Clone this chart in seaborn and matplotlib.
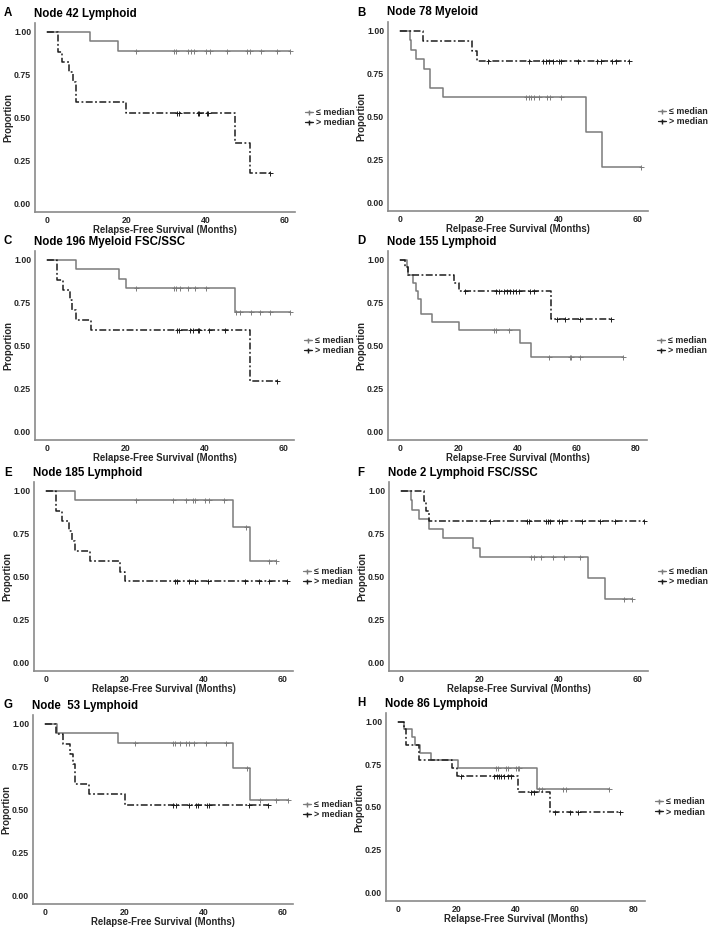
import numpy as np
import pandas as pd
import seaborn as sns
import matplotlib.pyplot as plt
from matplotlib.lines import Line2D

# Kaplan-Meier curves: event times (months), survival after
# each event, and censoring times, for the "<= median" and "> median" groups.

# A - Node 42 Lymphoid
a_le_t = [10.9, 17.9]
a_le_s = [0.944, 0.889]
a_le_c = [22.5, 32.0, 32.6, 35.6, 36.4, 37.0, 40.2, 41.2, 45.3, 50.5, 51.3, 54.1, 58.1, 61.3]
a_gt_t = [2.6, 3.6, 5.6, 6.5, 7.3, 19.8, 47.4, 51.3]
a_gt_s = [0.882, 0.824, 0.765, 0.706, 0.588, 0.529, 0.353, 0.176]
a_gt_c = [32.7, 33.3, 38.0, 38.3, 40.3, 40.7, 56.4]

# B - Node 78 Myeloid
b_le_t = [2.5, 2.8, 4.0, 5.9, 7.4, 10.9, 46.9, 50.9]
b_le_s = [0.944, 0.889, 0.833, 0.778, 0.667, 0.611, 0.407, 0.204]
b_le_c = [31.8, 32.5, 33.0, 33.9, 35.1, 37.2, 37.8, 40.6, 60.9]
b_gt_t = [5.7, 18.1, 19.5]
b_gt_s = [0.941, 0.882, 0.824]
b_gt_c = [22.2, 32.5, 36.0, 36.7, 37.7, 38.5, 40.0, 40.6, 45.0, 49.8, 50.6, 53.6, 54.4, 57.7]

# C - Node 196 Myeloid FSC/SSC
c_le_t = [7.4, 18.3, 19.9, 47.6]
c_le_s = [0.944, 0.889, 0.833, 0.694]
c_le_c = [22.4, 32.1, 32.7, 33.8, 35.7, 37.4, 40.4, 48.0, 48.9, 51.6, 54.1, 56.5, 61.5]
c_gt_t = [2.4, 3.9, 5.7, 6.3, 7.2, 11.0, 51.4]
c_gt_s = [0.882, 0.824, 0.765, 0.706, 0.647, 0.588, 0.294]
c_gt_c = [32.8, 33.4, 36.3, 37.0, 38.2, 38.5, 41.0, 45.2, 58.2]

# D - Node 155 Lymphoid
d_le_t = [2.3, 2.8, 4.5, 5.6, 6.2, 7.3, 10.9, 20.0, 40.8, 44.5]
d_le_s = [0.955, 0.909, 0.864, 0.818, 0.773, 0.682, 0.636, 0.591, 0.517, 0.431]
d_le_c = [31.9, 32.7, 37.2, 50.7, 57.8, 58.3, 61.4, 75.8]
d_gt_t = [1.7, 2.8, 18.4, 20.1, 51.5]
d_gt_s = [0.955, 0.909, 0.864, 0.818, 0.654]
d_gt_c = [22.0, 32.7, 33.8, 35.5, 36.6, 37.6, 38.5, 39.4, 40.6, 44.2, 45.6, 53.3, 56.3, 61.4, 71.8]

# E - Node 185 Lymphoid
e_le_t = [7.4, 47.5, 51.6]
e_le_s = [0.944, 0.787, 0.590]
e_le_c = [22.7, 32.1, 35.5, 37.2, 37.8, 40.3, 41.2, 45.2, 50.6, 56.4, 58.2]
e_gt_t = [2.5, 4.1, 5.9, 6.5, 7.4, 11.0, 18.6, 20.0]
e_gt_s = [0.882, 0.824, 0.765, 0.706, 0.647, 0.588, 0.529, 0.471]
e_gt_c = [32.7, 33.2, 36.3, 37.8, 41.0, 50.3, 54.1, 56.6, 61.1]

# F - Node 2 Lymphoid FSC/SSC
f_le_t = [2.5, 2.8, 4.4, 7.1, 10.5, 18.3, 20.0, 47.3, 51.6]
f_le_s = [0.944, 0.889, 0.833, 0.778, 0.722, 0.667, 0.611, 0.489, 0.367]
f_le_c = [33.0, 33.8, 35.5, 38.4, 41.2, 45.4, 56.4, 58.5]
f_gt_t = [5.7, 6.3, 7.1]
f_gt_s = [0.941, 0.882, 0.824]
f_gt_c = [22.4, 31.9, 32.5, 36.7, 37.2, 37.8, 40.0, 40.9, 45.8, 50.5, 54.3, 61.7]

# G - Node 53 Lymphoid
g_le_t = [2.9, 18.5, 47.4, 51.8]
g_le_s = [0.944, 0.889, 0.741, 0.556]
g_le_c = [22.7, 32.2, 32.7, 34.1, 35.5, 36.2, 37.5, 40.6, 45.6, 50.9, 54.3, 58.2, 61.4]
g_gt_t = [2.8, 4.6, 6.3, 6.9, 7.6, 11.1, 20.2]
g_gt_s = [0.941, 0.882, 0.824, 0.765, 0.647, 0.588, 0.529]
g_gt_c = [32.4, 33.0, 36.2, 38.1, 38.7, 40.8, 41.4, 51.5, 56.4]

# H - Node 86 Lymphoid
h_le_t = [2.2, 4.7, 5.8, 7.5, 11.2, 20.6, 47.2]
h_le_s = [0.955, 0.909, 0.864, 0.818, 0.773, 0.727, 0.606]
h_le_c = [33.4, 34.2, 36.7, 37.5, 40.1, 40.7, 41.2, 48.0, 49.1, 56.2, 57.3, 71.9]
h_gt_t = [2.2, 2.9, 7.3, 18.5, 20.2, 40.7, 51.7]
h_gt_s = [0.955, 0.864, 0.773, 0.727, 0.682, 0.585, 0.468]
h_gt_c = [21.6, 32.8, 33.6, 34.4, 35.2, 36.0, 37.3, 38.4, 45.2, 46.3, 53.4, 58.4, 61.2, 75.5]

letters = ['A', 'B', 'C', 'D', 'E', 'F', 'G', 'H']
titles = ['Node 42 Lymphoid', 'Node 78 Myeloid', 'Node 196 Myeloid FSC/SSC',
          'Node 155 Lymphoid', 'Node 185 Lymphoid', 'Node 2 Lymphoid FSC/SSC',
          'Node  53 Lymphoid', 'Node 86 Lymphoid']
xlabels = ['Relapse-Free Survival (Months)', 'Relpase-Free Survival (Months)'] + \
          ['Relapse-Free Survival (Months)'] * 6
x_max = [60, 60, 60, 80, 60, 60, 60, 80]
group_labels = ['\u2264 median', '> median']

curves = [
    (a_le_t, a_le_s, a_le_c, a_gt_t, a_gt_s, a_gt_c),
    (b_le_t, b_le_s, b_le_c, b_gt_t, b_gt_s, b_gt_c),
    (c_le_t, c_le_s, c_le_c, c_gt_t, c_gt_s, c_gt_c),
    (d_le_t, d_le_s, d_le_c, d_gt_t, d_gt_s, d_gt_c),
    (e_le_t, e_le_s, e_le_c, e_gt_t, e_gt_s, e_gt_c),
    (f_le_t, f_le_s, f_le_c, f_gt_t, f_gt_s, f_gt_c),
    (g_le_t, g_le_s, g_le_c, g_gt_t, g_gt_s, g_gt_c),
    (h_le_t, h_le_s, h_le_c, h_gt_t, h_gt_s, h_gt_c),
]

# axes boxes in pixels: left, top, right, bottom
boxes = [(35, 23, 295, 212), (388, 22, 648, 211),
         (35, 251, 294, 440), (388, 251, 647, 440),
         (34, 482, 293, 671), (389, 482, 648, 671),
         (33, 715, 293, 904), (386, 713, 645, 901)]

W, H = 708, 931
GRAY = '#7b7b7b'
DARK = '#1c1c1c'
AXIS = '#8a8a8a'
TEXT = '#262626'
DASH = (0, (4.5, 1.6, 1.2, 1.6))


def step_frame(times, surv, cens):
    x = [0.0] + list(times) + [max(cens)]
    y = [1.0] + list(surv) + [surv[-1]]
    return pd.DataFrame({'time': x, 'surv': y})


def censor_frame(times, surv, cens):
    levels = np.array([1.0] + list(surv))
    idx = np.searchsorted(np.array(times), np.array(cens), side='right')
    return pd.DataFrame({'time': cens, 'surv': levels[idx]})


sns.set_theme(style='white')
plt.rcParams['font.family'] = ['Liberation Sans', 'DejaVu Sans']
plt.rcParams['font.weight'] = 'bold'
plt.rcParams['axes.labelweight'] = 'bold'

fig = plt.figure(figsize=(W / 100, H / 100), dpi=100)

for i, (le_t, le_s, le_c, gt_t, gt_s, gt_c) in enumerate(curves):
    l, t, r, b = boxes[i]
    ax = fig.add_axes([l / W, 1 - b / H, (r - l) / W, (b - t) / H])

    for (tt, ss, cc, col, ls) in [(le_t, le_s, le_c, GRAY, '-'),
                                   (gt_t, gt_s, gt_c, DARK, DASH)]:
        sns.lineplot(data=step_frame(tt, ss, cc), x='time', y='surv',
                     drawstyle='steps-post', estimator=None, sort=False,
                     color=col, linewidth=1.1, linestyle=ls, ax=ax)
        cf = censor_frame(tt, ss, cc)
        ax.plot(cf['time'], cf['surv'], linestyle='none', marker='+',
                markersize=3.6, markeredgewidth=0.7, color=col)

    xm = x_max[i]
    if xm == 80:
        ax.set_xlim(-4, 84)
    else:
        ax.set_xlim(-3.1, 62.6)
    ax.set_ylim(-0.05, 1.05)
    ax.set_xticks(np.arange(0, xm + 1, 20))
    ax.set_yticks([0, 0.25, 0.5, 0.75, 1.0])
    ax.set_yticklabels(['0.00', '0.25', '0.50', '0.75', '1.00'])
    sns.despine(ax=ax)
    for side in ['left', 'bottom']:
        ax.spines[side].set_color(AXIS)
        ax.spines[side].set_linewidth(1.2)
    ax.tick_params(length=2.0, width=0.8, color=AXIS, labelsize=6.3,
                   labelcolor=TEXT, pad=0.8)
    ax.set_xlabel(xlabels[i], fontsize=6.9, color=TEXT, labelpad=0.3)
    ax.set_ylabel('Proportion', fontsize=6.9, color=TEXT, labelpad=0.6)

    handles = [Line2D([], [], color=GRAY, marker='+', markersize=3.6, lw=0.9),
               Line2D([], [], color=DARK, marker='+', markersize=3.6, lw=0.9)]
    ax.legend(handles, group_labels, loc='center left', bbox_to_anchor=(1.04, 0.5),
              frameon=False, handlelength=0.9, handletextpad=0.3, labelspacing=0.12,
              borderpad=0, borderaxespad=0,
              prop={'size': 6.4, 'weight': 'bold'}, labelcolor=TEXT)

    col_x = 4 if l < 300 else 357
    fig.text(col_x / W, 1 - (t - 9.5) / H, letters[i], fontsize=8.3,
             fontweight='bold', color='black', va='center', ha='left')
    fig.text((l - 1) / W, 1 - (t - 9.5) / H, titles[i], fontsize=8.3,
             fontweight='bold', color='black', va='center', ha='left')

fig.savefig('out.png', dpi=100, facecolor='white')
